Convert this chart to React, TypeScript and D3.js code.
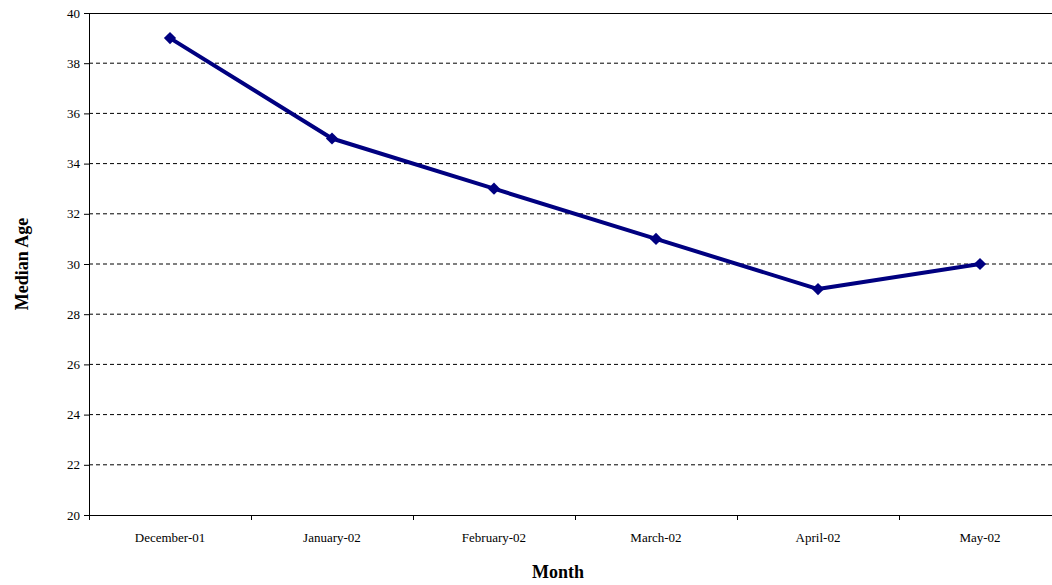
import * as d3 from "d3"

const months = ["December-01", "January-02", "February-02", "March-02", "April-02", "May-02"]
const medianAge = [39, 35, 33, 31, 29, 30]
const yTicks = [20, 22, 24, 26, 28, 30, 32, 34, 36, 38, 40]

export default function App() {
  const W = 1052
  const H = 585
  const left = 89
  const right = 1061
  const top = 13
  const bottom = 515

  const x = d3.scaleBand<string>().domain(months).range([left, right])
  const y = d3.scaleLinear().domain([20, 40]).range([bottom, top])
  const cx = (m: string) => (x(m) as number) + x.bandwidth() / 2

  const line = d3
    .line<number>()
    .x((_, i) => cx(months[i]))
    .y((d) => y(d))

  // square rotated 45 degrees, as in spreadsheet markers
  const diamond = d3.symbol().type(d3.symbolSquare).size(75)()

  return (
    <svg
      width={W}
      height={H}
      style={{ position: "absolute", left: 0, top: 0, fontFamily: "'Liberation Serif', 'Times New Roman', serif" }}
    >
      <rect x={0} y={0} width={W} height={H} fill="white" />
      {yTicks.slice(1, -1).map((t) => (
        <line key={t} x1={left} x2={right} y1={y(t)} y2={y(t)} stroke="#000" strokeWidth={1} strokeDasharray="4,3" />
      ))}
      <line x1={left} x2={right} y1={top + 0.5} y2={top + 0.5} stroke="#000" />
      <line x1={left + 0.5} x2={left + 0.5} y1={top} y2={bottom} stroke="#000" />
      <line x1={left} x2={right} y1={bottom + 0.5} y2={bottom + 0.5} stroke="#000" />
      {yTicks.map((t) => (
        <g key={t}>
          <line x1={left - 5} x2={left} y1={y(t) + 0.5} y2={y(t) + 0.5} stroke="#000" />
          <text x={left - 9} y={y(t)} textAnchor="end" dominantBaseline="central" fontSize={13}>
            {t}
          </text>
        </g>
      ))}
      {months.map((m, i) => (
        <g key={m}>
          <line x1={(x(m) as number) + 0.5} x2={(x(m) as number) + 0.5} y1={bottom} y2={bottom + 5} stroke="#000" />
          {i === months.length - 1 && (
            <line x1={right - 0.5} x2={right - 0.5} y1={bottom} y2={bottom + 5} stroke="#000" />
          )}
          <text x={cx(m)} y={bottom + 27} textAnchor="middle" fontSize={13}>
            {m}
          </text>
        </g>
      ))}
      <path d={line(medianAge) ?? ""} fill="none" stroke="#000080" strokeWidth={4} strokeLinejoin="round" />
      {medianAge.map((v, i) => (
        <path
          key={i}
          d={diamond ?? ""}
          transform={`translate(${cx(months[i])},${y(v)}) rotate(45)`}
          fill="#000080"
        />
      ))}
      <text x={(left + right) / 2 - 17} y={578} textAnchor="middle" fontSize={18} fontWeight="bold">
        Month
      </text>
      <text
        transform={`translate(22,${(top + bottom) / 2}) rotate(-90)`}
        textAnchor="middle"
        dominantBaseline="central"
        fontSize={18}
        fontWeight="bold"
      >
        Median Age
      </text>
    </svg>
  )
}
